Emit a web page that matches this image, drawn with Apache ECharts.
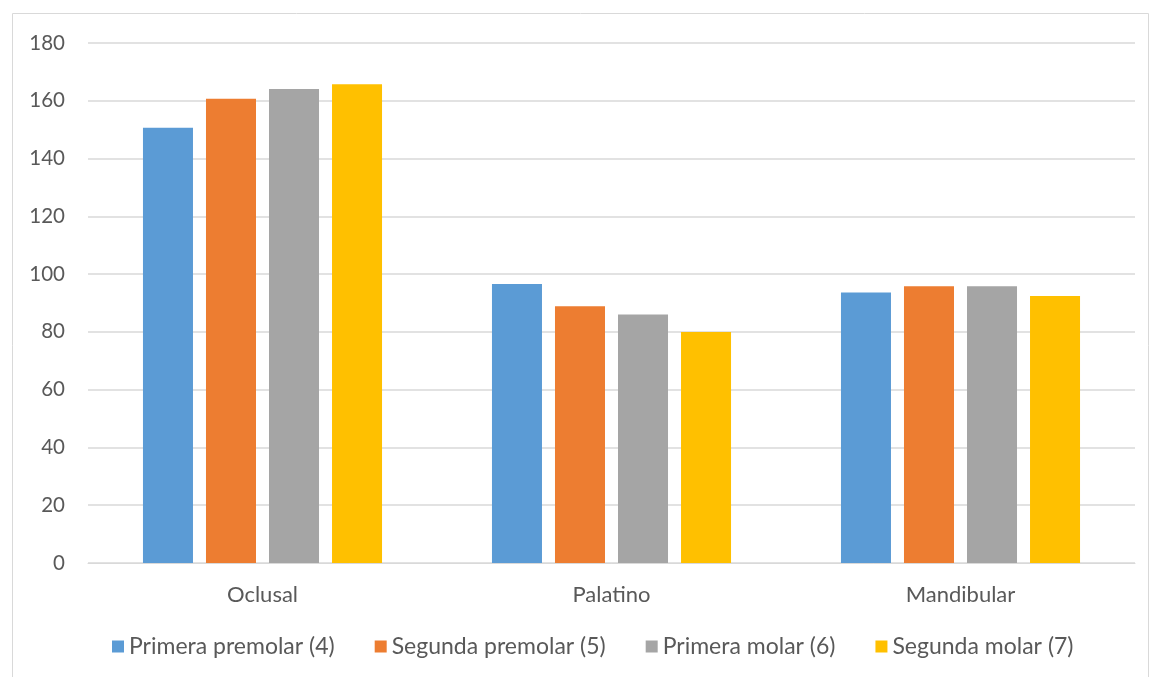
<!DOCTYPE html>
<html>
<head>
<meta charset="utf-8">
<script src="https://cdn.jsdelivr.net/npm/echarts@6/dist/echarts.min.js"></script>
<style>
  html, body { margin: 0; padding: 0; background: #fff; }
  #main { width: 1151px; height: 677px; }
</style>
</head>
<body>
<div id="main"></div>
<script>
var categories = ['Oclusal', 'Palatino', 'Mandibular'];
var seriesNames = ['Primera premolar (4)', 'Segunda premolar (5)', 'Primera molar (6)', 'Segunda molar (7)'];
var primeraPremolar = [150.7, 96.6, 93.6];
var segundaPremolar = [160.7, 88.9, 95.8];
var primeraMolar = [164.1, 86.0, 95.8];
var segundaMolar = [165.7, 80.0, 92.4];
var colors = ['#5b9bd5', '#ed7d31', '#a5a5a5', '#ffc000'];

var chart = echarts.init(document.getElementById('main'));
var font = 'Lato, "Open Sans", sans-serif';

function bar(name, data) {
  return {
    name: name,
    type: 'bar',
    data: data,
    barGap: '26%',
    barCategoryGap: '31.5%'
  };
}

var option = {
  animation: false,
  color: colors,
  textStyle: { fontFamily: font },
  graphic: [{
    type: 'rect',
    shape: { x: 12.5, y: 13.5, width: 1136, height: 680 },
    style: { fill: 'none', stroke: '#d9d9d9', lineWidth: 1 }
  }],
  legend: {
    bottom: 14,
    left: 107,
    itemWidth: 12,
    itemHeight: 12,
    itemGap: 40,
    icon: 'rect',
    textStyle: { color: '#595959', fontSize: 23, fontFamily: font }
  },
  grid: { left: 88, right: 16, top: 43, bottom: 114 },
  xAxis: {
    type: 'category',
    data: categories,
    axisLine: { lineStyle: { color: '#d9d9d9' } },
    axisTick: { show: false },
    axisLabel: { color: '#595959', fontSize: 22, margin: 21 }
  },
  yAxis: {
    type: 'value',
    min: 0,
    max: 180,
    interval: 20,
    axisLine: { show: false },
    axisTick: { show: false },
    axisLabel: { color: '#595959', fontSize: 20.5, margin: 23 },
    splitLine: { lineStyle: { color: '#d9d9d9', width: 1.5 } }
  },
  series: [
    bar(seriesNames[0], primeraPremolar),
    bar(seriesNames[1], segundaPremolar),
    bar(seriesNames[2], primeraMolar),
    bar(seriesNames[3], segundaMolar)
  ]
};

chart.setOption(option);
</script>
</body>
</html>
